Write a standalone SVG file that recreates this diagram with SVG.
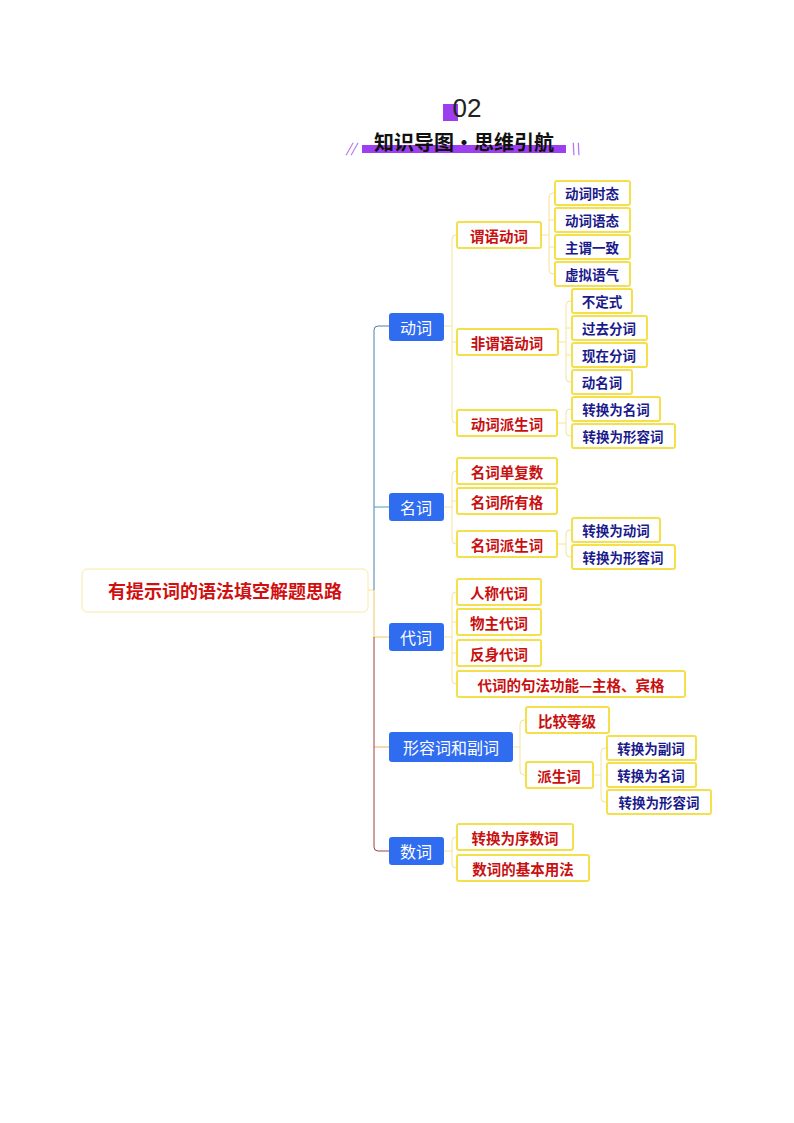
<svg xmlns="http://www.w3.org/2000/svg" width="794" height="1123" viewBox="0 0 794 1123">
<style>
text{font-family:"Noto Sans CJK SC","Noto Sans",sans-serif;dominant-baseline:central}
.l1 rect{fill:#2f6cf0;rx:3}
.l1 text{fill:#fff;font-size:16px}
.l2 rect{fill:#fff;stroke:#f3e04a;stroke-width:2;rx:2}
.l2 text{fill:#c81010;font-size:14.5px;font-weight:bold}
.l3 rect{fill:#fff;stroke:#f3e04a;stroke-width:2;rx:2}
.l3 text{fill:#1a1a8c;font-size:13.5px;font-weight:bold}
.c path{fill:none;stroke:#f2e49a;stroke-width:1}
</style>
<rect width="794" height="1123" fill="#fff"/>
<g id="title">
<rect x="443" y="104" width="15" height="17" fill="#9b3ff0"/>
<text x="467" y="108" text-anchor="middle" font-size="26" fill="#222" style="font-family:'Liberation Sans',sans-serif">02</text>
<rect x="362" y="145" width="204" height="8" fill="#9b3ff0"/>
<text x="464" y="141" text-anchor="middle" font-size="20" font-weight="bold" fill="#111">知识导图·思维引航</text>
<text x="351" y="147" text-anchor="middle" font-size="13" fill="#9b3ff0" font-style="italic">//</text>
<text x="575" y="147" text-anchor="middle" font-size="13" fill="#9b3ff0" font-style="italic">\\</text>
</g>
<g id="connectors" class="c">
<path d="M368 590 H374"/>
<path d="M389 326 H378 Q374 326 374 330 V590" style="stroke:#4a7fa8"/>
<path d="M389 507 H374" style="stroke:#4aa0b0"/>
<path d="M389 637 H374 V590" style="stroke:#f0c860"/>
<path d="M389 747 H374" style="stroke:#f0b060"/>
<path d="M389 851 H378 Q374 851 374 847 V637" style="stroke:#a04040"/>
<path d="M444 326 H452 M457 235 H456 Q452 235 452 239 V419 Q452 423 456 423 H457 M452 342 H457"/>
<path d="M444 507 H452 M457 471 H456 Q452 471 452 475 V540 Q452 544 456 544 H457 M452 501 H457"/>
<path d="M444 637 H452 M457 592 H456 Q452 592 452 596 V680 Q452 684 456 684 H457 M452 622 H457 M452 653 H457"/>
<path d="M513 747 H520 M526 720 H524 Q520 720 520 724 V771 Q520 775 524 775 H526"/>
<path d="M444 851 H452 M457 837 H456 Q452 837 452 841 V864 Q452 868 456 868 H457"/>
<path d="M541 235 H549 M555 193 H553 Q549 193 549 197 V270 Q549 274 553 274 H555 M549 220 H555 M549 247 H555"/>
<path d="M558 342 H566 M572 301 H570 Q566 301 566 305 V378 Q566 382 570 382 H572 M566 328 H572 M566 355 H572"/>
<path d="M557 423 H566 M572 409 H570 Q566 409 566 413 V432 Q566 436 570 436 H572"/>
<path d="M557 544 H566 M572 530 H570 Q566 530 566 534 V553 Q566 557 570 557 H572"/>
<path d="M593 775 H601 M607 748 H605 Q601 748 601 752 V798 Q601 802 605 802 H607"/>
</g>
<g id="root"><rect x="82" y="569" width="286" height="43" rx="5" fill="#fff" stroke="#f6eaa8" stroke-width="1"/><text x="225" y="590" text-anchor="middle" font-size="18" font-weight="bold" fill="#d01010">有提示词的语法填空解题思路</text></g>
<g id="n-dongci" class="l1"><rect x="389" y="313" width="55" height="28"/><text x="416" y="327" text-anchor="middle">动词</text></g>
<g id="n-mingci" class="l1"><rect x="389" y="493" width="55" height="28"/><text x="416" y="507" text-anchor="middle">名词</text></g>
<g id="n-daici" class="l1"><rect x="389" y="623" width="55" height="28"/><text x="416" y="637" text-anchor="middle">代词</text></g>
<g id="n-xingrong" class="l1"><rect x="389" y="732" width="124" height="30"/><text x="451" y="747" text-anchor="middle">形容词和副词</text></g>
<g id="n-shuci" class="l1"><rect x="389" y="837" width="55" height="28"/><text x="416" y="851" text-anchor="middle">数词</text></g>
<g id="n-weiyu" class="l2"><rect x="457" y="222" width="84" height="26"/><text x="499" y="235" text-anchor="middle">谓语动词</text></g>
<g id="n-feiweiyu" class="l2"><rect x="457" y="329" width="101" height="26"/><text x="507" y="342" text-anchor="middle">非谓语动词</text></g>
<g id="n-dcpsc" class="l2"><rect x="457" y="410" width="100" height="26"/><text x="507" y="423" text-anchor="middle">动词派生词</text></g>
<g id="n-mcdfs" class="l2"><rect x="457" y="458" width="100" height="26"/><text x="507" y="471" text-anchor="middle">名词单复数</text></g>
<g id="n-mcsyg" class="l2"><rect x="457" y="488" width="100" height="26"/><text x="507" y="501" text-anchor="middle">名词所有格</text></g>
<g id="n-mcpsc" class="l2"><rect x="457" y="531" width="100" height="26"/><text x="507" y="544" text-anchor="middle">名词派生词</text></g>
<g id="n-rcdc" class="l2"><rect x="457" y="579" width="84" height="26"/><text x="499" y="592" text-anchor="middle">人称代词</text></g>
<g id="n-wzdc" class="l2"><rect x="457" y="609" width="84" height="26"/><text x="499" y="622" text-anchor="middle">物主代词</text></g>
<g id="n-fsdc" class="l2"><rect x="457" y="640" width="84" height="26"/><text x="499" y="653" text-anchor="middle">反身代词</text></g>
<g id="n-jfgn" class="l2"><rect x="457" y="671" width="228" height="26"/><text x="571" y="684" text-anchor="middle">代词的句法功能—主格、宾格</text></g>
<g id="n-bjdj" class="l2"><rect x="526" y="707" width="83" height="26"/><text x="567" y="720" text-anchor="middle">比较等级</text></g>
<g id="n-psc" class="l2"><rect x="526" y="762" width="67" height="26"/><text x="559" y="775" text-anchor="middle">派生词</text></g>
<g id="n-xsc" class="l2"><rect x="457" y="824" width="116" height="26"/><text x="515" y="837" text-anchor="middle">转换为序数词</text></g>
<g id="n-jbyf" class="l2"><rect x="457" y="855" width="132" height="26"/><text x="523" y="868" text-anchor="middle">数词的基本用法</text></g>
<g id="n-dcst" class="l3"><rect x="555" y="181" width="75" height="24"/><text x="592" y="193" text-anchor="middle">动词时态</text></g>
<g id="n-dcyt" class="l3"><rect x="555" y="208" width="75" height="24"/><text x="592" y="220" text-anchor="middle">动词语态</text></g>
<g id="n-zwyz" class="l3"><rect x="555" y="235" width="75" height="24"/><text x="592" y="247" text-anchor="middle">主谓一致</text></g>
<g id="n-xnyq" class="l3"><rect x="555" y="262" width="75" height="24"/><text x="592" y="274" text-anchor="middle">虚拟语气</text></g>
<g id="n-bds" class="l3"><rect x="572" y="289" width="60" height="24"/><text x="602" y="301" text-anchor="middle">不定式</text></g>
<g id="n-gqfc" class="l3"><rect x="572" y="316" width="75" height="24"/><text x="609" y="328" text-anchor="middle">过去分词</text></g>
<g id="n-xzfc" class="l3"><rect x="572" y="343" width="75" height="24"/><text x="609" y="355" text-anchor="middle">现在分词</text></g>
<g id="n-dmc" class="l3"><rect x="572" y="370" width="60" height="24"/><text x="602" y="382" text-anchor="middle">动名词</text></g>
<g id="n-zhmc1" class="l3"><rect x="572" y="397" width="88" height="24"/><text x="616" y="409" text-anchor="middle">转换为名词</text></g>
<g id="n-zhxrc1" class="l3"><rect x="572" y="424" width="103" height="24"/><text x="623" y="436" text-anchor="middle">转换为形容词</text></g>
<g id="n-zhdc" class="l3"><rect x="572" y="518" width="88" height="24"/><text x="616" y="530" text-anchor="middle">转换为动词</text></g>
<g id="n-zhxrc2" class="l3"><rect x="572" y="545" width="103" height="24"/><text x="623" y="557" text-anchor="middle">转换为形容词</text></g>
<g id="n-zhfc" class="l3"><rect x="607" y="736" width="89" height="24"/><text x="651" y="748" text-anchor="middle">转换为副词</text></g>
<g id="n-zhmc2" class="l3"><rect x="607" y="763" width="89" height="24"/><text x="651" y="775" text-anchor="middle">转换为名词</text></g>
<g id="n-zhxrc3" class="l3"><rect x="607" y="790" width="104" height="24"/><text x="659" y="802" text-anchor="middle">转换为形容词</text></g>
</svg>
